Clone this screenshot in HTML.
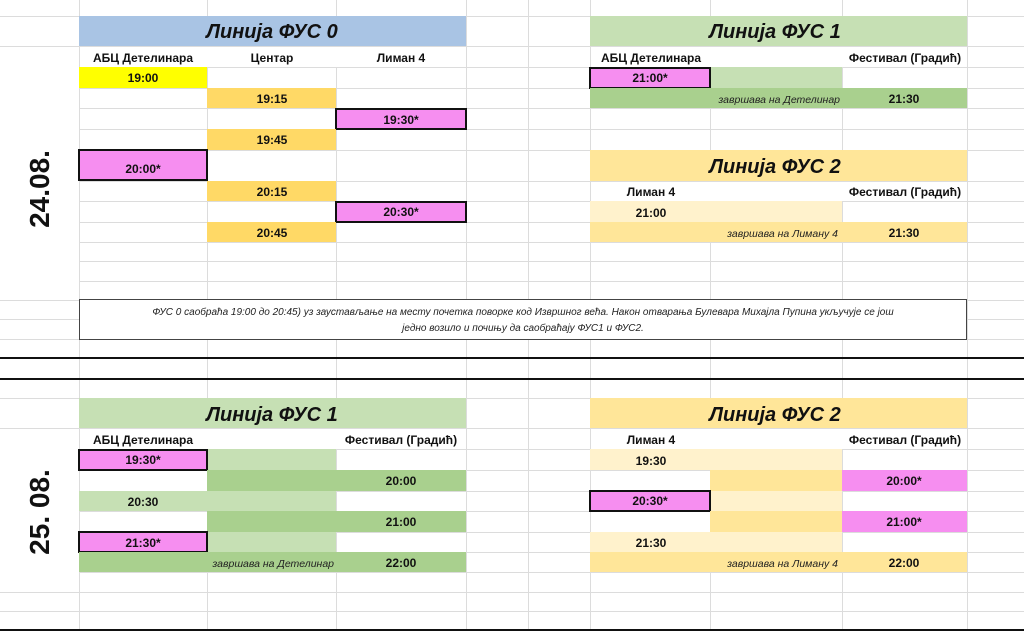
<!DOCTYPE html>
<html><head><meta charset="utf-8"><style>
html,body{margin:0;padding:0;background:#fff;}
svg{display:block;font-family:"Liberation Sans","DejaVu Sans",sans-serif;}
.b{font-weight:bold;font-size:12px;fill:#111;}
.t{font-weight:bold;font-style:italic;font-size:20px;fill:#111;}
.i{font-style:italic;font-size:10.5px;fill:#222;}
.n{font-style:italic;font-size:10px;fill:#222;}
.d{font-weight:bold;font-size:28px;fill:#111;}
</style></head><body>
<svg width="1024" height="631" viewBox="0 0 1024 631" xmlns="http://www.w3.org/2000/svg">
<g stroke="#dcdcdc" stroke-width="1">
<line x1="79.5" y1="0" x2="79.5" y2="631"/><line x1="207.5" y1="0" x2="207.5" y2="631"/>
<line x1="336.5" y1="0" x2="336.5" y2="631"/><line x1="466.5" y1="0" x2="466.5" y2="631"/>
<line x1="528.5" y1="0" x2="528.5" y2="631"/><line x1="590.5" y1="0" x2="590.5" y2="631"/>
<line x1="710.5" y1="0" x2="710.5" y2="631"/><line x1="842.5" y1="0" x2="842.5" y2="631"/>
<line x1="967.5" y1="0" x2="967.5" y2="631"/>
<line x1="0" y1="16.5" x2="1024" y2="16.5"/><line x1="0" y1="46.5" x2="1024" y2="46.5"/>
<line x1="79" y1="67.5" x2="1024" y2="67.5"/><line x1="79" y1="88.5" x2="1024" y2="88.5"/>
<line x1="79" y1="108.5" x2="1024" y2="108.5"/><line x1="79" y1="129.5" x2="1024" y2="129.5"/>
<line x1="79" y1="150.5" x2="1024" y2="150.5"/><line x1="79" y1="181.5" x2="1024" y2="181.5"/>
<line x1="79" y1="201.5" x2="1024" y2="201.5"/><line x1="79" y1="222.5" x2="1024" y2="222.5"/>
<line x1="79" y1="242.5" x2="1024" y2="242.5"/><line x1="79" y1="261.5" x2="1024" y2="261.5"/>
<line x1="79" y1="281.5" x2="1024" y2="281.5"/><line x1="0" y1="300.5" x2="1024" y2="300.5"/>
<line x1="0" y1="319.5" x2="1024" y2="319.5"/><line x1="0" y1="339.5" x2="1024" y2="339.5"/>
<line x1="0" y1="398.5" x2="1024" y2="398.5"/><line x1="0" y1="428.5" x2="1024" y2="428.5"/>
<line x1="79" y1="449.5" x2="1024" y2="449.5"/><line x1="79" y1="470.5" x2="1024" y2="470.5"/>
<line x1="79" y1="491.5" x2="1024" y2="491.5"/><line x1="79" y1="511.5" x2="1024" y2="511.5"/>
<line x1="79" y1="532.5" x2="1024" y2="532.5"/><line x1="79" y1="552.5" x2="1024" y2="552.5"/>
<line x1="79" y1="572.5" x2="1024" y2="572.5"/><line x1="0" y1="592.5" x2="1024" y2="592.5"/>
<line x1="0" y1="611.5" x2="1024" y2="611.5"/>
</g>
<rect x="0" y="47" width="79" height="253" fill="#fff"/>
<rect x="0" y="429" width="79" height="163" fill="#fff"/>
<rect x="80" y="47" width="386" height="20" fill="#fff"/>
<rect x="591" y="47" width="376" height="20" fill="#fff"/>
<rect x="591" y="182" width="376" height="19" fill="#fff"/>
<rect x="80" y="429" width="386" height="20" fill="#fff"/>
<rect x="591" y="429" width="376" height="20" fill="#fff"/>
<rect x="0" y="357" width="1024" height="2" fill="#111"/>
<rect x="0" y="378" width="1024" height="2" fill="#111"/>
<rect x="0" y="629" width="1024" height="2" fill="#111"/>

<rect x="79" y="16" width="387" height="30" fill="#a9c4e4"/>
<text class="t" x="272" y="38" text-anchor="middle">Линија ФУС 0</text>
<text class="b" x="143" y="62" text-anchor="middle">АБЦ Детелинара</text>
<text class="b" x="272" y="62" text-anchor="middle">Центар</text>
<text class="b" x="401" y="62" text-anchor="middle">Лиман 4</text>
<rect x="79" y="67" width="128" height="21" fill="#ffff00"/>
<text class="b" x="143" y="82" text-anchor="middle">19:00</text>
<rect x="207" y="88" width="129" height="20" fill="#ffd966"/>
<text class="b" x="272" y="103" text-anchor="middle">19:15</text>
<rect x="336" y="109" width="130" height="20" fill="#f68ef0" stroke="#111" stroke-width="2"/>
<text class="b" x="401" y="124" text-anchor="middle">19:30*</text>
<rect x="207" y="129" width="129" height="21" fill="#ffd966"/>
<text class="b" x="272" y="144" text-anchor="middle">19:45</text>
<rect x="79" y="150" width="128" height="30" fill="#f68ef0" stroke="#111" stroke-width="2"/>
<text class="b" x="143" y="173" text-anchor="middle">20:00*</text>
<rect x="207" y="181" width="129" height="20" fill="#ffd966"/>
<text class="b" x="272" y="196" text-anchor="middle">20:15</text>
<rect x="336" y="202" width="130" height="20" fill="#f68ef0" stroke="#111" stroke-width="2"/>
<text class="b" x="401" y="216" text-anchor="middle">20:30*</text>
<rect x="207" y="222" width="129" height="20" fill="#ffd966"/>
<text class="b" x="272" y="237" text-anchor="middle">20:45</text>

<rect x="590" y="16" width="377" height="30" fill="#c6e0b4"/>
<text class="t" x="775" y="38" text-anchor="middle">Линија ФУС 1</text>
<text class="b" x="651" y="62" text-anchor="middle">АБЦ Детелинара</text>
<text class="b" x="905" y="62" text-anchor="middle">Фестивал (Градић)</text>
<rect x="710" y="67" width="132" height="21" fill="#c6e0b4"/>
<rect x="590" y="68" width="120" height="20" fill="#f68ef0" stroke="#111" stroke-width="2"/>
<text class="b" x="650" y="82" text-anchor="middle">21:00*</text>
<rect x="590" y="88" width="377" height="20" fill="#a9d08e"/>
<text class="i" x="840" y="103" text-anchor="end">завршава на Детелинар</text>
<text class="b" x="904" y="103" text-anchor="middle">21:30</text>

<rect x="590" y="150" width="377" height="31" fill="#ffe699"/>
<text class="t" x="775" y="173" text-anchor="middle">Линија ФУС 2</text>
<text class="b" x="651" y="196" text-anchor="middle">Лиман 4</text>
<text class="b" x="905" y="196" text-anchor="middle">Фестивал (Градић)</text>
<rect x="590" y="201" width="252" height="21" fill="#fff2cc"/>
<text class="b" x="651" y="217" text-anchor="middle">21:00</text>
<rect x="590" y="222" width="377" height="20" fill="#ffe699"/>
<text class="i" x="838" y="237" text-anchor="end">завршава на Лиману 4</text>
<text class="b" x="904" y="237" text-anchor="middle">21:30</text>

<rect x="79.5" y="299.5" width="887" height="40" fill="#fff" stroke="#444" stroke-width="1"/>
<text class="n" x="523" y="315" text-anchor="middle">ФУС 0 саобраћа 19:00 до 20:45) уз заустављање на месту почетка поворке код Извршног већа. Након отварања Булевара Михајла Пупина укључује се још</text>
<text class="n" x="523" y="331" text-anchor="middle">једно возило и почињу да саобраћају ФУС1 и ФУС2.</text>

<text class="d" transform="translate(49,189) rotate(-90)" text-anchor="middle">24.08.</text>
<text class="d" transform="translate(49,512) rotate(-90)" text-anchor="middle">25. 08.</text>

<rect x="79" y="398" width="387" height="30" fill="#c6e0b4"/>
<text class="t" x="272" y="421" text-anchor="middle">Линија ФУС 1</text>
<text class="b" x="143" y="444" text-anchor="middle">АБЦ Детелинара</text>
<text class="b" x="401" y="444" text-anchor="middle">Фестивал (Градић)</text>
<rect x="207" y="449" width="129" height="21" fill="#c6e0b4"/>
<rect x="79" y="450" width="128" height="20" fill="#f68ef0" stroke="#111" stroke-width="2"/>
<text class="b" x="143" y="464" text-anchor="middle">19:30*</text>
<rect x="207" y="470" width="259" height="21" fill="#a9d08e"/>
<text class="b" x="401" y="485" text-anchor="middle">20:00</text>
<rect x="79" y="491" width="257" height="20" fill="#c6e0b4"/>
<text class="b" x="143" y="506" text-anchor="middle">20:30</text>
<rect x="207" y="511" width="259" height="21" fill="#a9d08e"/>
<text class="b" x="401" y="526" text-anchor="middle">21:00</text>
<rect x="207" y="532" width="129" height="20" fill="#c6e0b4"/>
<rect x="79" y="532" width="128" height="20" fill="#f68ef0" stroke="#111" stroke-width="2"/>
<text class="b" x="143" y="547" text-anchor="middle">21:30*</text>
<rect x="79" y="552" width="387" height="20" fill="#a9d08e"/>
<text class="i" x="334" y="567" text-anchor="end">завршава на Детелинар</text>
<text class="b" x="401" y="567" text-anchor="middle">22:00</text>

<rect x="590" y="398" width="377" height="30" fill="#ffe699"/>
<text class="t" x="775" y="421" text-anchor="middle">Линија ФУС 2</text>
<text class="b" x="651" y="444" text-anchor="middle">Лиман 4</text>
<text class="b" x="905" y="444" text-anchor="middle">Фестивал (Градић)</text>
<rect x="590" y="449" width="252" height="21" fill="#fff2cc"/>
<text class="b" x="651" y="465" text-anchor="middle">19:30</text>
<rect x="710" y="470" width="132" height="21" fill="#ffe699"/>
<rect x="842" y="470" width="125" height="21" fill="#f68ef0"/>
<text class="b" x="904" y="485" text-anchor="middle">20:00*</text>
<rect x="710" y="491" width="132" height="20" fill="#fff2cc"/>
<rect x="590" y="491" width="120" height="20" fill="#f68ef0" stroke="#111" stroke-width="2"/>
<text class="b" x="650" y="505" text-anchor="middle">20:30*</text>
<rect x="710" y="511" width="132" height="21" fill="#ffe699"/>
<rect x="842" y="511" width="125" height="21" fill="#f68ef0"/>
<text class="b" x="904" y="526" text-anchor="middle">21:00*</text>
<rect x="590" y="532" width="252" height="20" fill="#fff2cc"/>
<text class="b" x="651" y="547" text-anchor="middle">21:30</text>
<rect x="590" y="552" width="377" height="20" fill="#ffe699"/>
<text class="i" x="838" y="567" text-anchor="end">завршава на Лиману 4</text>
<text class="b" x="904" y="567" text-anchor="middle">22:00</text>
</svg>
</body></html>
